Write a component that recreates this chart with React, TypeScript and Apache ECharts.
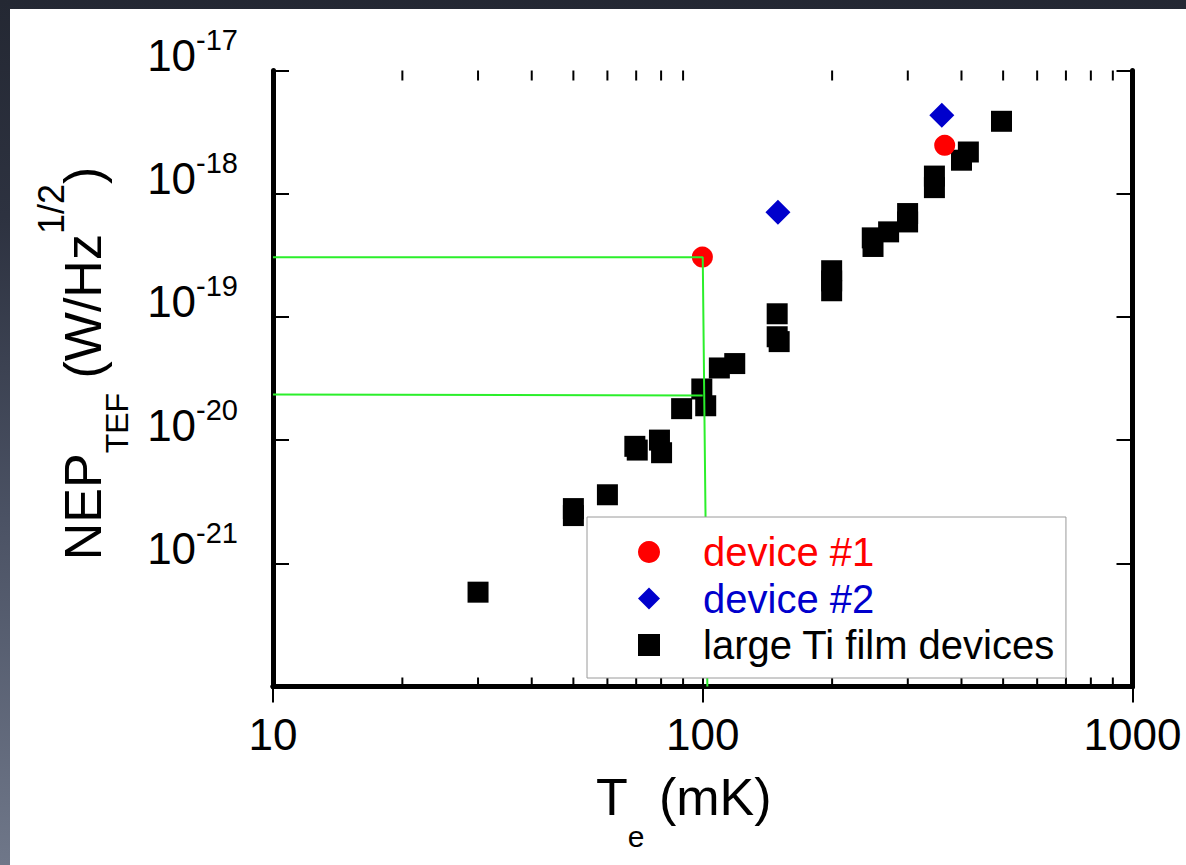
import React, { useEffect, useRef } from 'react';
import * as echarts from 'echarts';

// ---- data ----
const tiTemp = [30, 50, 50, 60, 69.5, 70.4, 79.3, 80.2, 89.3, 99.5, 101.6, 109.3, 118.7, 149, 149, 150.6, 199.5, 199.5, 199.5, 248, 249, 270.7, 299.7, 299.7, 346, 346, 400, 415, 495.6];
const tiNep = [5.83e-22, 2.78e-21, 2.44e-21, 3.6e-21, 8.9e-21, 8.3e-21, 1.0e-20, 7.9e-21, 1.8e-20, 2.6e-20, 1.9e-20, 3.85e-20, 4.18e-20, 1.06e-19, 6.9e-20, 6.3e-20, 2.37e-19, 1.96e-19, 1.63e-19, 4.38e-19, 3.73e-19, 4.9e-19, 6.9e-19, 5.9e-19, 1.39e-18, 1.12e-18, 1.87e-18, 2.18e-18, 3.87e-18];
const dev1Temp = [99.8, 365.6];
const dev1Nep = [3.06e-19, 2.47e-18];
const dev2Temp = [149.6, 360];
const dev2Nep = [7.07e-19, 4.33e-18];
const guideATemp = [10, 100, 102.5];
const guideANep = [3.05e-19, 3.05e-19, 1e-22];
const guideBTemp = [10, 100];
const guideBNep = [2.34e-20, 2.3e-20];
const minorTickTemps = [20, 30, 40, 50, 60, 70, 80, 90, 200, 300, 400, 500, 600, 700, 800, 900];
const xRange = [10, 1000];
const yRange = [1e-22, 1e-17];
const legendNames = ['device #1', 'device #2', 'large Ti film devices'];
const legendColors = ['#ff0000', '#0000cc', '#000000'];

const FONT = '"Liberation Sans", Arial, Helvetica, sans-serif';

const zip = (a: number[], b: number[]) => a.map((v, i) => [v, b[i]]);

export default function App() {
  const ref = useRef<HTMLDivElement>(null);
  useEffect(() => {
    if (!ref.current) return;
    const chart = echarts.init(ref.current, undefined, { renderer: 'svg' });
    const axisLineStyle = { color: '#000', width: 5 };
    const tickStyle = { color: '#000', width: 2 };
    const option: any = {
      animation: false,
      backgroundColor: 'transparent',
      textStyle: { fontFamily: FONT },
      grid: { left: 273, right: 53.5, top: 70.5, bottom: 178.5, containLabel: false, outerBoundsMode: 'none' },
      legend: {
        orient: 'vertical',
        left: 587,
        top: 517,
        padding: [15, 11, 13, 51],
        itemWidth: 22,
        itemHeight: 22,
        itemGap: 6.5,
        backgroundColor: '#fff',
        borderColor: '#9a9a9a',
        borderWidth: 1,
        borderRadius: 0,
        selectedMode: false,
        textStyle: { fontSize: 40, lineHeight: 40, fontFamily: FONT, padding: [0, 0, 0, 38] },
        data: legendNames.map((n, i) => ({ name: n, textStyle: { color: legendColors[i] } })),
      },
      xAxis: [
        {
          type: 'log',
          logBase: 10,
          min: xRange[0],
          max: xRange[1],
          position: 'bottom',
          axisLine: { lineStyle: axisLineStyle },
          axisTick: { inside: true, length: 16, lineStyle: tickStyle },
          splitLine: { show: false },
          axisLabel: {
            color: '#000', fontSize: 44, lineHeight: 44, margin: 26, fontFamily: FONT,
            showMinLabel: true, showMaxLabel: true,
            formatter: (v: number) => String(Math.round(v)),
          },
          name: '{b|T}{s|e}{b| (mK)}',
          nameLocation: 'middle',
          nameGap: 55,
          nameMoveOverlap: false,
          nameTextStyle: {
            padding: [0, 38, 0, 0],
            rich: {
              b: { fontSize: 52, lineHeight: 110, color: '#000', fontFamily: FONT },
              s: { fontSize: 30, lineHeight: 30, verticalAlign: 'bottom', color: '#000', fontFamily: FONT },
            },
          },
        },
        {
          type: 'log',
          logBase: 10,
          min: xRange[0],
          max: xRange[1],
          position: 'top',
          axisLine: { lineStyle: axisLineStyle },
          axisTick: { inside: true, length: 16, lineStyle: tickStyle },
          axisLabel: { show: false },
          splitLine: { show: false },
        },
      ],
      yAxis: [
        {
          type: 'log',
          logBase: 10,
          min: yRange[0],
          max: yRange[1],
          position: 'left',
          axisLine: { lineStyle: axisLineStyle },
          axisTick: { inside: true, length: 16, lineStyle: tickStyle },
          splitLine: { show: false },
          axisLabel: {
            margin: 35,
            padding: [0, 0, 30, 0],
            showMinLabel: true,
            showMaxLabel: true,
            formatter: (v: number) => `{b|10}{s|${Math.round(Math.log10(v))}}`,
            rich: {
              b: { fontSize: 44, lineHeight: 60, color: '#000', fontFamily: FONT },
              s: { fontSize: 29, lineHeight: 32, verticalAlign: 'top', color: '#000', fontFamily: FONT },
            },
          },
          name: '{b|NEP}{sub|TEF}{b| (W/Hz}{sup|1/2}{b|)}',
          nameLocation: 'middle',
          nameGap: 140,
          nameMoveOverlap: false,
          nameTextStyle: {
            padding: [0, 0, 0, 30],
            rich: {
              b: { fontSize: 52, lineHeight: 100, color: '#000', fontFamily: FONT },
              sub: { fontSize: 32, lineHeight: 38, verticalAlign: 'bottom', color: '#000', fontFamily: FONT },
              sup: { fontSize: 36, lineHeight: 55, verticalAlign: 'top', color: '#000', fontFamily: FONT },
            },
          },
        },
        {
          type: 'log',
          logBase: 10,
          min: yRange[0],
          max: yRange[1],
          position: 'right',
          axisLine: { lineStyle: axisLineStyle },
          axisTick: { inside: true, length: 16, lineStyle: tickStyle },
          axisLabel: { show: false },
          splitLine: { show: false },
        },
      ],
      series: [
        {
          name: 'minor ticks',
          type: 'custom',
          silent: true,
          clip: false,
          xAxisIndex: 0,
          yAxisIndex: 0,
          data: minorTickTemps.map((t) => [t, yRange[0]]),
          renderItem: (params: any, api: any) => {
            const x = api.value(0);
            const b = api.coord([x, yRange[0]]);
            const t = api.coord([x, yRange[1]]);
            return {
              type: 'group',
              children: [
                { type: 'line', shape: { x1: b[0], y1: b[1], x2: b[0], y2: b[1] - 9 }, style: { stroke: '#000', lineWidth: 2 } },
                { type: 'line', shape: { x1: t[0], y1: t[1], x2: t[0], y2: t[1] + 10 }, style: { stroke: '#000', lineWidth: 2 } },
              ],
            };
          },
        },
        {
          name: 'large Ti film devices',
          type: 'scatter',
          symbol: 'rect',
          symbolSize: 21,
          itemStyle: { color: '#000', opacity: 1 },
          data: zip(tiTemp, tiNep),
        },
        {
          name: 'guide A',
          type: 'line',
          showSymbol: false,
          symbol: 'none',
          silent: true,
          lineStyle: { color: '#2bef2b', width: 2 },
          data: zip(guideATemp, guideANep),
        },
        {
          name: 'guide B',
          type: 'line',
          showSymbol: false,
          symbol: 'none',
          silent: true,
          lineStyle: { color: '#2bef2b', width: 2 },
          data: zip(guideBTemp, guideBNep),
        },
        {
          name: 'device #1',
          type: 'scatter',
          symbol: 'circle',
          symbolSize: 21,
          itemStyle: { color: '#ff0000', opacity: 1 },
          data: zip(dev1Temp, dev1Nep),
        },
        {
          name: 'device #2',
          type: 'scatter',
          symbol: 'diamond',
          symbolSize: 25,
          itemStyle: { color: '#0000cc', opacity: 1 },
          data: zip(dev2Temp, dev2Nep),
        },
      ],
    };
    chart.setOption(option);
    return () => chart.dispose();
  }, []);

  return (
    <div
      style={{
        position: 'fixed', left: 0, top: 0, width: 1186, height: 865, overflow: 'hidden',
        background: 'linear-gradient(to bottom, #242833 0%, #2d3240 25%, #4b5264 60%, #6f7789 100%)',
      }}
    >
      <div style={{ position: 'absolute', left: 10, top: 9, right: 0, bottom: 0, background: '#fff' }} />
      <div ref={ref} style={{ position: 'absolute', left: 0, top: 0, width: 1186, height: 865 }} />
    </div>
  );
}
